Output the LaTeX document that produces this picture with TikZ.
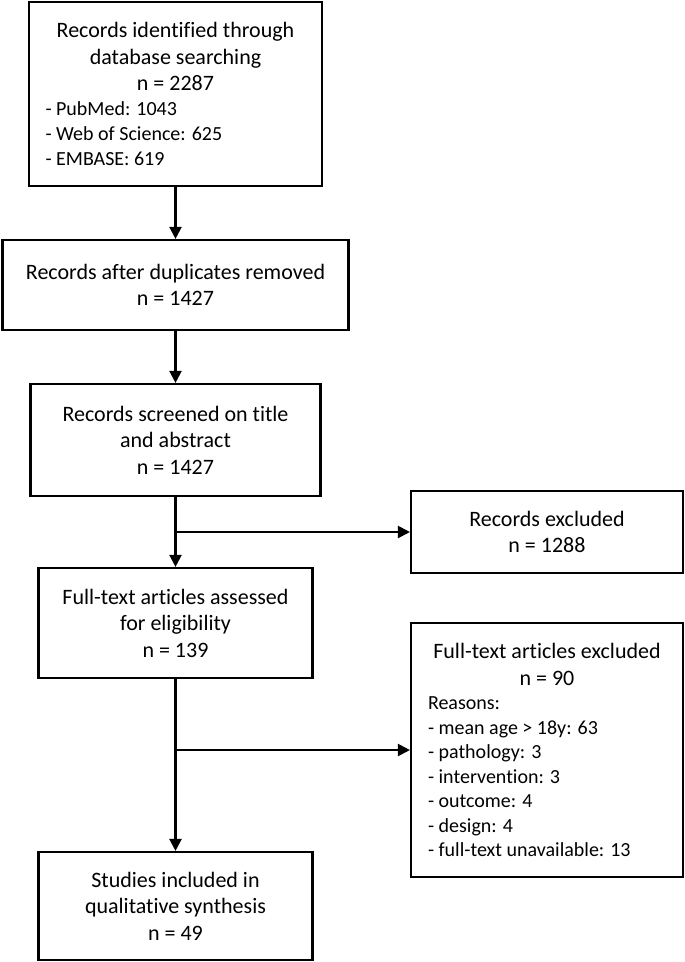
\documentclass[tikz,border=0pt]{standalone}
\usepackage{fontspec}
\setmainfont{Carlito}[Ligatures=NoCommon]
\usetikzlibrary{arrows.meta}
\begin{document}
\begin{tikzpicture}[x=1pt,y=-1pt,
  box/.style={draw=black, line width=2.1pt, inner sep=0pt, align=center,
              font=\fontsize{22}{26.5}\selectfont},
  arr/.style={line width=2.1pt, -{Triangle[width=12pt,length=12pt]}}]
\useasboundingbox (0,0) rectangle (685,962);

\node[box, minimum width=293pt, minimum height=184pt] (b1) at (175.5,94)
  {\begin{minipage}{260pt}\centering
   Records identified through\\database searching\\n = 2287\par
   \raggedright\fontsize{20}{25}\selectfont - PubMed: 1043\\- Web of Science: 625\\- EMBASE: 619\par
   \end{minipage}};

\node[box, minimum width=346pt, minimum height=90pt] (b2) at (175.5,285)
  {Records after duplicates removed\\n = 1427};

\node[box, minimum width=290pt, minimum height=112pt] (b3) at (175.5,440)
  {Records screened on title\\and abstract\\n = 1427};

\node[box, minimum width=272pt, minimum height=82pt] (b4) at (547,532)
  {Records excluded\\n = 1288};

\node[box, minimum width=274pt, minimum height=110pt] (b5) at (175.5,623)
  {Full-text articles assessed\\for eligibility\\n = 139};

\node[box, minimum width=272pt, minimum height=254pt] (b6) at (547,750)
  {\begin{minipage}{238pt}\centering
   Full-text articles excluded\\n = 90\par
   \raggedright\fontsize{20}{24.5}\selectfont Reasons:\\- mean age > 18y: 63\\- pathology: 3\\- intervention: 3\\- outcome: 4\\- design: 4\\- full-text unavailable: 13\par
   \end{minipage}};

\node[box, minimum width=274pt, minimum height=108pt] (b7) at (175.5,906)
  {Studies included in\\qualitative synthesis\\n = 49};

\draw[arr] (b1.south) -- (b2.north);
\draw[arr] (b2.south) -- (b3.north);
\draw[arr] (b3.south) -- (b5.north);
\draw[arr] (b3.south |- b4.west) -- (b4.west);
\draw[arr] (b5.south) -- (b7.north);
\draw[arr] (b5.south |- b6.west) -- (b6.west);
\end{tikzpicture}
\end{document}
